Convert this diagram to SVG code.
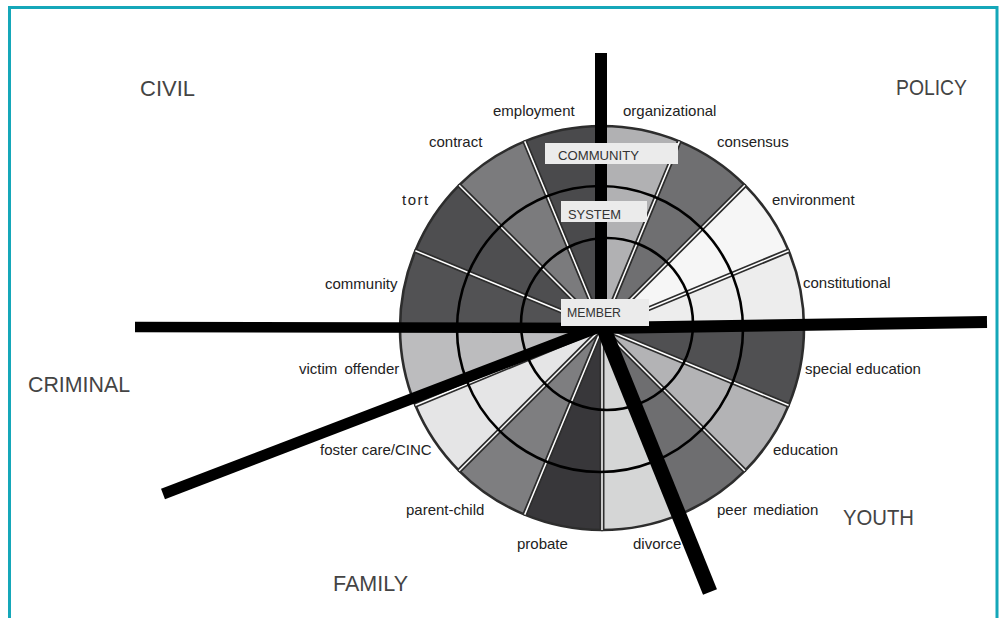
<svg xmlns="http://www.w3.org/2000/svg" width="1001" height="618" viewBox="0 0 1001 618">
<style>
.w{stroke:#2d2d2d;stroke-width:2.6;stroke-linejoin:round}
.sepd{fill:none;stroke:#2d2d2d;stroke-width:5}
.sepw{fill:none;stroke:#fff;stroke-width:1.5}
.ring{fill:none;stroke:#000;stroke-width:2.6}
.bar{stroke:#000;stroke-linecap:butt}
.lbl{font-family:"Liberation Sans",Arial,sans-serif;font-size:15px;fill:#222}
.cat{font-family:"Liberation Sans",Arial,sans-serif;font-size:22px;fill:#444}
.box{fill:#ebebeb}
.btx{font-family:"Liberation Sans",Arial,sans-serif;font-size:13px;fill:#333}
</style>
<rect width="1001" height="618" fill="#fff"/>
<path d="M9.5 618V7.5H997V618" fill="none" stroke="#15a7b9" stroke-width="3"/>

<g id="wheel">
<g id="w-organizational"><path class="w" fill="#b1b1b3" d="M602 328L602 126A202 202 0 0 1 679.3 141.38Z"/></g>
<g id="w-consensus"><path class="w" fill="#6f6f71" d="M602 328L679.3 141.38A202 202 0 0 1 744.84 185.16Z"/></g>
<g id="w-environment"><path class="w" fill="#f6f6f6" d="M602 328L744.84 185.16A202 202 0 0 1 788.62 250.7Z"/></g>
<g id="w-constitutional"><path class="w" fill="#ededed" d="M602 328L788.62 250.7A202 202 0 0 1 804 328Z"/></g>
<g id="w-special-education"><path class="w" fill="#505052" d="M602 328L804 328A202 202 0 0 1 788.62 405.3Z"/></g>
<g id="w-education"><path class="w" fill="#b3b3b5" d="M602 328L788.62 405.3A202 202 0 0 1 744.84 470.84Z"/></g>
<g id="w-peer-mediation"><path class="w" fill="#6e6e70" d="M602 328L744.84 470.84A202 202 0 0 1 679.3 514.62Z"/></g>
<g id="w-divorce"><path class="w" fill="#d5d6d6" d="M602 328L679.3 514.62A202 202 0 0 1 602 530Z"/></g>
<g id="w-probate"><path class="w" fill="#38373a" d="M602 328L602 530A202 202 0 0 1 524.7 514.62Z"/></g>
<g id="w-parent-child"><path class="w" fill="#7e7e80" d="M602 328L524.7 514.62A202 202 0 0 1 459.16 470.84Z"/></g>
<g id="w-foster-care"><path class="w" fill="#e5e5e6" d="M602 328L459.16 470.84A202 202 0 0 1 415.38 405.3Z"/></g>
<g id="w-victim-offender"><path class="w" fill="#bcbcbe" d="M602 328L415.38 405.3A202 202 0 0 1 400 328Z"/></g>
<g id="w-community"><path class="w" fill="#525254" d="M602 328L400 328A202 202 0 0 1 415.38 250.7Z"/></g>
<g id="w-tort"><path class="w" fill="#4e4e50" d="M602 328L415.38 250.7A202 202 0 0 1 459.16 185.16Z"/></g>
<g id="w-contract"><path class="w" fill="#7b7b7d" d="M602 328L459.16 185.16A202 202 0 0 1 524.7 141.38Z"/></g>
<g id="w-employment"><path class="w" fill="#4a4a4c" d="M602 328L524.7 141.38A202 202 0 0 1 602 126Z"/></g>
</g>

<g id="separators">
<path class="sepd" d="M602 328L602 126M602 328L679.3 141.38M602 328L744.84 185.16M602 328L788.62 250.7M602 328L804 328M602 328L788.62 405.3M602 328L744.84 470.84M602 328L679.3 514.62M602 328L602 530M602 328L524.7 514.62M602 328L459.16 470.84M602 328L415.38 405.3M602 328L400 328M602 328L415.38 250.7M602 328L459.16 185.16M602 328L524.7 141.38"/>
<path class="sepw" d="M602 328L602 126M602 328L679.3 141.38M602 328L744.84 185.16M602 328L788.62 250.7M602 328L804 328M602 328L788.62 405.3M602 328L744.84 470.84M602 328L679.3 514.62M602 328L602 530M602 328L524.7 514.62M602 328L459.16 470.84M602 328L415.38 405.3M602 328L400 328M602 328L415.38 250.7M602 328L459.16 185.16M602 328L524.7 141.38"/>
</g>

<g id="rings">
<circle class="ring" cx="600" cy="329" r="143"/>
<circle class="ring" cx="607" cy="324" r="86"/>
</g>

<g id="connectors">
<line class="bar" x1="601" y1="53" x2="601" y2="330" stroke-width="12"/>
<line class="bar" x1="135" y1="327" x2="603" y2="328" stroke-width="10.5"/>
<line class="bar" x1="600" y1="328" x2="987" y2="322" stroke-width="12"/>
<line class="bar" x1="163" y1="494" x2="602" y2="326" stroke-width="11"/>
<line class="bar" x1="603" y1="327" x2="710" y2="592" stroke-width="15"/>
</g>

<g id="level-community"><rect class="box" x="545" y="143" width="133" height="21"/><text class="btx" x="558" y="160" textLength="81" lengthAdjust="spacingAndGlyphs">COMMUNITY</text></g>
<g id="level-system"><rect class="box" x="561" y="201" width="86" height="21"/><text class="btx" x="568" y="219" textLength="53" lengthAdjust="spacingAndGlyphs">SYSTEM</text></g>
<g id="level-member"><rect class="box" x="561" y="299" width="88" height="27"/><text class="btx" x="567" y="317" textLength="54" lengthAdjust="spacingAndGlyphs">MEMBER</text></g>

<g id="labels">
<text class="lbl" x="493" y="116">employment</text>
<text class="lbl" x="623" y="116">organizational</text>
<text class="lbl" x="429" y="147">contract</text>
<text class="lbl" x="717" y="147">consensus</text>
<text class="lbl" x="402" y="205" letter-spacing="1.5">tort</text>
<text class="lbl" x="772" y="205">environment</text>
<text class="lbl" x="325" y="289">community</text>
<text class="lbl" x="803" y="288">constitutional</text>
<text class="lbl" x="299" y="374" word-spacing="3">victim offender</text>
<text class="lbl" x="805" y="374">special education</text>
<text class="lbl" x="320" y="455">foster care/CINC</text>
<text class="lbl" x="773" y="455">education</text>
<text class="lbl" x="406" y="515">parent-child</text>
<text class="lbl" x="717" y="515" word-spacing="2">peer mediation</text>
<text class="lbl" x="517" y="549">probate</text>
<text class="lbl" x="633" y="549">divorce</text>
</g>

<g id="categories">
<text class="cat" x="140" y="96" textLength="55" lengthAdjust="spacingAndGlyphs">CIVIL</text>
<text class="cat" x="896" y="95" textLength="71" lengthAdjust="spacingAndGlyphs">POLICY</text>
<text class="cat" x="28" y="392" textLength="102" lengthAdjust="spacingAndGlyphs">CRIMINAL</text>
<text class="cat" x="843" y="525" textLength="71" lengthAdjust="spacingAndGlyphs">YOUTH</text>
<text class="cat" x="333" y="591" textLength="75" lengthAdjust="spacingAndGlyphs">FAMILY</text>
</g>
</svg>
